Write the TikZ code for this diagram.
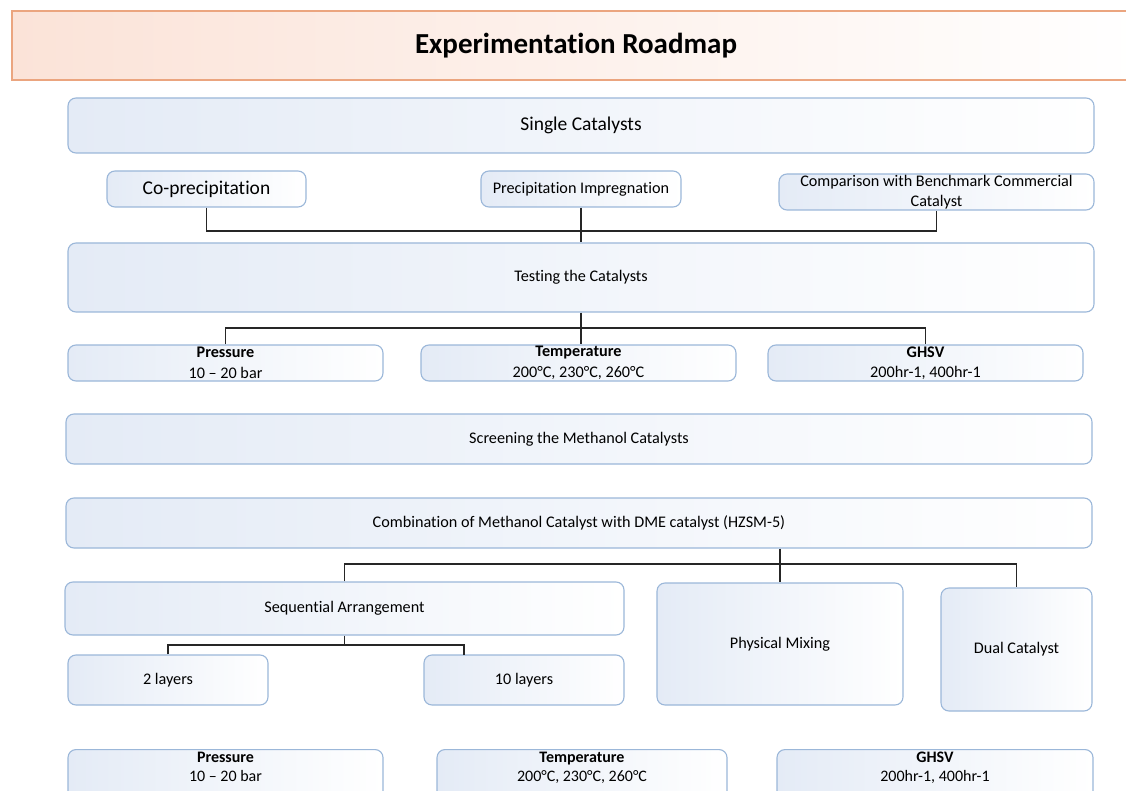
\documentclass[tikz,border=0pt]{standalone}
\usepackage{fontspec}
\setmainfont{Carlito}[Ligatures=NoCommon]
\definecolor{bordblue}{HTML}{9BB7D9}
\definecolor{fillblue}{HTML}{E4EBF6}
\definecolor{tborder}{HTML}{EBA57F}
\definecolor{tfill}{HTML}{FBE3D8}
\tikzset{
  box/.style={draw=bordblue, line width=1.1pt, rounded corners=8pt,
    left color=fillblue, middle color=fillblue!35!white, right color=white, inner sep=0pt, align=center,
    font=\fontsize{16.2}{20.5}\selectfont},
  conn/.style={draw=black!85, line width=1.7pt},
}
\begin{document}
\begin{tikzpicture}[x=1pt,y=-1pt]
\useasboundingbox (0,0) rectangle (1126,791);
\begin{scope}
\clip (0,0) rectangle (1126,791);
% title
\shade[left color=tfill, middle color=tfill!30!white, right color=white] (12,11) rectangle (1140,80);
\draw[tborder, line width=1.4pt] (1140,11) -- (12,11) -- (12,80) -- (1140,80);
\node[font=\fontsize{29}{34}\selectfont\bfseries] (title) at (576,46) {Experimentation Roadmap};

\node[box, minimum width=1026pt, minimum height=55pt, font=\fontsize{19.5}{23}\selectfont] (single) at (581,125.5) {Single Catalysts};
\node[box, minimum width=199pt, minimum height=36pt, font=\fontsize{19.5}{23}\selectfont] (cop) at (206.5,189) {Co-precipitation};
\node[box, minimum width=200pt, minimum height=36pt] (pimp) at (581,189) {Precipitation Impregnation};
\node[box, minimum width=315pt, minimum height=36pt, font=\fontsize{16.2}{19.5}\selectfont] (cmp) at (936.5,192) {Comparison with Benchmark Commercial\\Catalyst};
\node[box, minimum width=1026pt, minimum height=69pt] (test) at (581,277.5) {Testing the Catalysts};
\node[box, minimum width=315pt, minimum height=36pt] (pres) at (225.5,363) {\textbf{Pressure}\\10 – 20 bar};
\node[box, minimum width=315pt, minimum height=36pt] (temp) at (578.5,363) {\textbf{Temperature}\\200°C, 230°C, 260°C};
\node[box, minimum width=315pt, minimum height=36pt] (ghsv) at (925.5,363) {\textbf{GHSV}\\200hr-1, 400hr-1};
\node[box, minimum width=1026pt, minimum height=50pt] (screen) at (579,439) {Screening the Methanol Catalysts};
\node[box, minimum width=1026pt, minimum height=50pt] (comb) at (579,523) {Combination of Methanol Catalyst with DME catalyst (HZSM-5)};
\node[box, minimum width=559pt, minimum height=53pt] (seq) at (344.5,608.5) {Sequential Arrangement};
\node[box, minimum width=246pt, minimum height=122pt] (phys) at (780,644) {Physical Mixing};
\node[box, minimum width=151pt, minimum height=123pt] (dual) at (1016.5,649.5) {Dual Catalyst};
\node[box, minimum width=200pt, minimum height=50pt] (two) at (168,680) {2 layers};
\node[box, minimum width=200pt, minimum height=50pt] (ten) at (524,680) {10 layers};
\node[box, minimum width=315pt, minimum height=50pt, anchor=north] (pres2) at (225.5,749) {};
\node[box, minimum width=290pt, minimum height=50pt, anchor=north] (temp2) at (582,749) {};
\node[box, minimum width=316pt, minimum height=50pt, anchor=north] (ghsv2) at (935,749) {};
\node[align=center, inner sep=0pt, font=\fontsize{16}{19}\selectfont, anchor=north] (pres2t) at (pres2.north) [yshift=-3pt] {\textbf{Pressure}\\10 – 20 bar};
\node[align=center, inner sep=0pt, font=\fontsize{16}{19}\selectfont, anchor=north] (temp2t) at (temp2.north) [yshift=-3pt] {\textbf{Temperature}\\200°C, 230°C, 260°C};
\node[align=center, inner sep=0pt, font=\fontsize{16}{19}\selectfont, anchor=north] (ghsv2t) at (ghsv2.north) [yshift=-3pt] {\textbf{GHSV}\\200hr-1, 400hr-1};

% connectors
\coordinate (j1) at (581,231);
\draw[conn] (cop.south) |- (j1) -| (cmp.south);
\draw[conn] (pimp.south) -- (test.north);
\coordinate (j2) at (581,328);
\draw[conn] (pres.north) |- (j2) -| (ghsv.north);
\draw[conn] (test.south) -- (test.south |- temp.north);
\coordinate (j3) at (780,564);
\draw[conn] (seq.north) |- (j3) -| (dual.north);
\draw[conn] (comb.south -| phys.north) -- (phys.north);
\coordinate (j4) at (344.5,645);
\coordinate (t10) at (464,655);
\draw[conn] (two.north) |- (j4) -| (t10);
\draw[conn] (seq.south) -- (j4);
\end{scope}
\end{tikzpicture}
\end{document}
